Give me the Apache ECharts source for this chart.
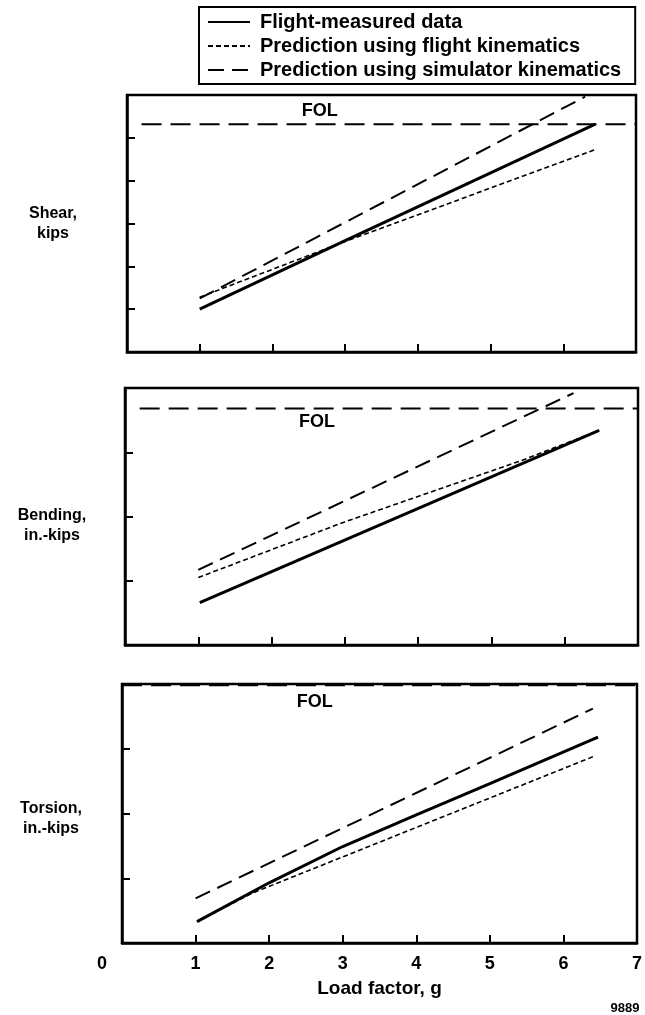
<!DOCTYPE html>
<html><head><meta charset="utf-8">
<script src="https://cdn.jsdelivr.net/npm/echarts@6/dist/echarts.min.js"></script>
<style>html,body{margin:0;padding:0;background:#fff}#c{width:645px;height:1015px}</style>
</head><body><div id="c"></div>
<script>
// ---- data ----
const xTickLabels = ['0','1','2','3','4','5','6','7'];
const seriesNames = ['Flight-measured data','Prediction using flight kinematics','Prediction using simulator kinematics'];
const panelTitleLines = [['Shear,','kips'],['Bending,','in.-kips'],['Torsion,','in.-kips']];
const panelYMax = [6, 4, 4];
const folValues = [5.32, 3.68, 3.98];
const folStartX = [0.2, 0.2, 0];

const shearMeasuredX = [1.0, 3.0, 6.44];
const shearMeasuredY = [1.0, 2.6, 5.32];
const shearFlightX = [1.0, 3.0, 6.43];
const shearFlightY = [1.28, 2.58, 4.72];
const shearSimX = [1.0, 6.30];
const shearSimY = [1.25, 5.96];

const bendMeasuredX = [1.02, 6.47];
const bendMeasuredY = [0.66, 3.34];
const bendFlightX = [1.0, 2.96, 5.43, 6.47];
const bendFlightY = [1.05, 1.90, 2.88, 3.34];
const bendSimX = [1.0, 6.12];
const bendSimY = [1.17, 3.92];

const torsMeasuredX = [1.02, 2.0, 3.0, 4.0, 5.0, 6.47];
const torsMeasuredY = [0.33, 0.93, 1.49, 1.98, 2.46, 3.18];
const torsFlightX = [1.02, 1.77, 6.43];
const torsFlightY = [0.33, 0.77, 2.89];
const torsSimX = [1.0, 6.4];
const torsSimY = [0.69, 3.62];

// ---- build ----
const zip = (xs, ys) => xs.map((x, i) => [x, ys[i]]);
const panels = [
  {m: zip(shearMeasuredX, shearMeasuredY), f: zip(shearFlightX, shearFlightY), s: zip(shearSimX, shearSimY)},
  {m: zip(bendMeasuredX, bendMeasuredY), f: zip(bendFlightX, bendFlightY), s: zip(bendSimX, bendSimY)},
  {m: zip(torsMeasuredX, torsMeasuredY), f: zip(torsFlightX, torsFlightY), s: zip(torsSimX, torsSimY)}
];
const FONT = '"Liberation Sans", Arial, Helvetica, sans-serif';
const grids = [
  {left: 127, top: 95, width: 509, height: 257},
  {left: 125, top: 388, width: 513, height: 257},
  {left: 122, top: 684, width: 515, height: 259}
];
const nameGaps = [74, 73, 71];
const nameShift = [1, 18, 10]; // spacer line height (shifts title down by half)

const option = {
  animation: false,
  backgroundColor: '#fff',
  legend: {
    orient: 'vertical', left: 199, top: 7,
    data: seriesNames,
    itemWidth: 42, itemHeight: 18, itemGap: 4,
    padding: [5, 14, 4, 8],
    borderColor: '#000', borderWidth: 2,
    itemStyle: {opacity: 0, borderWidth: 0},
    textStyle: {color: '#000', fontFamily: FONT, fontWeight: 'bold', fontSize: 20, padding: [0, 0, 0, 5]},
    selectedMode: false
  },
  grid: grids.map(g => Object.assign({show: true, borderColor: '#000', borderWidth: 2.5, backgroundColor: 'transparent'}, g)),
  xAxis: grids.map((g, i) => ({
    type: 'value', gridIndex: i, min: 0, max: 7, interval: 1,
    axisLine: {show: true, lineStyle: {color: '#000', width: 2.5}},
    axisTick: {show: true, inside: true, length: 8, lineStyle: {color: '#000', width: 2}},
    splitLine: {show: false},
    axisLabel: {
      show: i === 2, margin: 12, color: '#000', fontFamily: FONT, fontWeight: 'bold', fontSize: 18,
      formatter: v => v === 0 ? '{z|' + xTickLabels[v] + '}' : xTickLabels[v],
      rich: {z: {padding: [0, 40, 0, 0], fontFamily: FONT, fontWeight: 'bold', fontSize: 18, color: '#000'}}
    },
    name: i === 2 ? 'Load factor, g' : '',
    nameLocation: 'middle', nameGap: 36,
    nameTextStyle: {color: '#000', fontFamily: FONT, fontWeight: 'bold', fontSize: 19}
  })),
  yAxis: grids.map((g, i) => ({
    type: 'value', gridIndex: i, min: 0, max: panelYMax[i], interval: 1,
    axisLine: {show: true, lineStyle: {color: '#000', width: 2.5}},
    axisTick: {show: true, inside: true, length: 8, lineStyle: {color: '#000', width: 2}},
    splitLine: {show: false},
    axisLabel: {show: false},
    name: '{s| }\n{t|' + panelTitleLines[i][0] + '}\n{t|' + panelTitleLines[i][1] + '}',
    nameLocation: 'middle', nameRotate: 0, nameGap: nameGaps[i],
    nameTextStyle: {
      color: '#000', fontFamily: FONT, fontWeight: 'bold', fontSize: 16, align: 'center', verticalAlign: 'middle',
      rich: {
        s: {fontSize: 1, lineHeight: nameShift[i], height: nameShift[i]},
        t: {fontFamily: FONT, fontWeight: 'bold', fontSize: 16, lineHeight: 20, color: '#000', align: 'center'}
      }
    }
  })),
  series: [],
  graphic: []
};

panels.forEach((p, i) => {
  option.series.push({
    name: seriesNames[2], type: 'line', xAxisIndex: i, yAxisIndex: i, data: p.s,
    symbol: 'none', z: 3, lineStyle: {color: '#000', width: 2, type: [16, 8]}, itemStyle: {color: '#000'}
  });
  option.series.push({
    name: seriesNames[1], type: 'line', xAxisIndex: i, yAxisIndex: i, data: p.f,
    symbol: 'none', z: 4, lineStyle: {color: '#000', width: 1.6, type: [5, 3]}, itemStyle: {color: '#000'}
  });
  option.series.push({
    name: seriesNames[0], type: 'line', xAxisIndex: i, yAxisIndex: i, data: p.m,
    symbol: 'none', z: 5, lineStyle: {color: '#000', width: 3, type: 'solid'}, itemStyle: {color: '#000'}
  });
  option.series.push({
    name: 'FOL', type: 'line', xAxisIndex: i, yAxisIndex: i,
    data: [[folStartX[i], folValues[i]], [7, folValues[i]]],
    symbol: 'none', z: 2, lineStyle: {color: '#000', width: 2, type: [20, 9]}, silent: true
  });
});

const chart = echarts.init(document.getElementById('c'), null, {renderer: 'canvas'});
chart.setOption(option);

// FOL labels placed through the axes' scales
const folLabelX = [2.65, 2.62, 2.62];
const folLabelDy = [-13, 13, 17];
const gr = [];
folValues.forEach((v, i) => {
  const pt = chart.convertToPixel({xAxisIndex: i, yAxisIndex: i}, [folLabelX[i], v]);
  gr.push({type: 'text', x: pt[0], y: pt[1] + folLabelDy[i],
    style: {text: 'FOL', fill: '#000', font: 'bold 18px ' + FONT, textAlign: 'center', textVerticalAlign: 'middle'}});
});
gr.push({type: 'text', x: 625, y: 1008, style: {text: '9889', fill: '#000', font: 'bold 13px ' + FONT, textAlign: 'center', textVerticalAlign: 'middle'}});
chart.setOption({graphic: gr});
</script></body></html>
